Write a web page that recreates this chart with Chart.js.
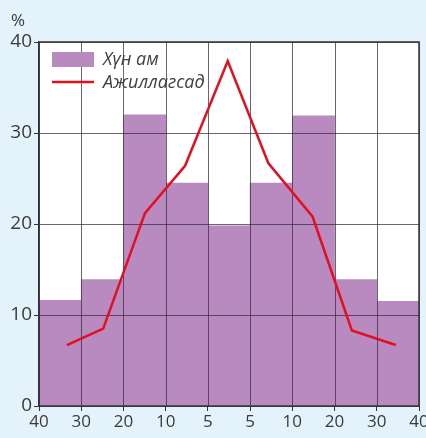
<!DOCTYPE html>
<html>
<head>
<meta charset="utf-8">
<script src="https://cdn.jsdelivr.net/npm/chart.js@4/dist/chart.umd.min.js"></script>
<style>
  html, body { margin: 0; padding: 0; background: #e4f3fb; }
  #wrap { position: relative; width: 426px; height: 438px; }
</style>
</head>
<body>
<div id="wrap"><canvas id="c" width="426" height="438"></canvas></div>
<script>
// Bin edge labels (age groups, mirrored)
const edgeLabels = ['40', '30', '20', '10', '5', '5', '10', '20', '30', '40'];
// Bin centres (in bin units) for population bars
const barX = [0.5, 1.5, 2.5, 3.5, 4.5, 5.5, 6.5, 7.5, 8.5];
// "Хүн ам" (population), %
const population = [11.6, 13.9, 32.0, 24.5, 19.8, 24.5, 31.9, 13.9, 11.5];
// "Ажиллагсад" (employed), % and their positions
const employedX = [0.66, 1.52, 2.51, 3.46, 4.47, 5.43, 6.48, 7.41, 8.45];
const employed = [6.7, 8.5, 21.2, 26.4, 37.9, 26.7, 20.8, 8.3, 6.7];
const yTicks = [0, 10, 20, 30, 40];
const seriesNames = ['Хүн ам', 'Ажиллагсад'];

const FONT = "'Open Sans', 'Noto Sans', sans-serif";
const PURPLE = '#b98ac0';
const RED = '#e2101f';

const gridPlugin = {
  id: 'gridOverBars',
  beforeDatasetsDraw(chart) {
    const { ctx, chartArea: a } = chart;
    ctx.save();
    ctx.fillStyle = '#ffffff';
    ctx.fillRect(a.left, a.top, a.right - a.left, a.bottom - a.top);
    ctx.restore();
  },
  beforeDatasetDraw(chart, args) {
    if (args.index !== 1) return; // draw after bars, before line
    const { ctx, chartArea: a, scales: { x, y } } = chart;
    ctx.save();
    ctx.strokeStyle = 'rgba(50,40,60,0.72)';
    ctx.lineWidth = 1;
    yTicks.forEach(v => {
      const py = Math.round(y.getPixelForValue(v)) + 0.5;
      ctx.beginPath(); ctx.moveTo(a.left, py); ctx.lineTo(a.right, py); ctx.stroke();
    });
    for (let i = 0; i < edgeLabels.length; i++) {
      const px = Math.round(x.getPixelForValue(i)) + 0.5;
      ctx.beginPath(); ctx.moveTo(px, a.top); ctx.lineTo(px, a.bottom); ctx.stroke();
    }
    ctx.strokeStyle = '#333';
    ctx.lineWidth = 1.5;
    ctx.strokeRect(a.left, a.top, a.right - a.left, a.bottom - a.top);
    ctx.restore();
  },
  afterDraw(chart) {
    const { ctx, chartArea: a } = chart;
    ctx.save();
    // % label
    ctx.fillStyle = '#3a3a3a';
    ctx.font = '17px ' + FONT;
    ctx.textAlign = 'center';
    ctx.textBaseline = 'alphabetic';
    ctx.fillText('%', 18, 26);
    // legend
    const lx = a.left + 13;
    ctx.fillStyle = PURPLE;
    ctx.fillRect(lx, 52, 42, 15);
    ctx.strokeStyle = RED;
    ctx.lineWidth = 2.5;
    ctx.beginPath(); ctx.moveTo(lx, 82); ctx.lineTo(lx + 42, 82); ctx.stroke();
    ctx.fillStyle = '#404040';
    ctx.font = 'italic 18px ' + FONT;
    ctx.textAlign = 'left';
    ctx.fillText(seriesNames[0], lx + 51, 65);
    ctx.fillText(seriesNames[1], lx + 51, 88);
    ctx.restore();
  }
};

new Chart(document.getElementById('c'), {
  type: 'bar',
  data: {
    datasets: [
      {
        type: 'bar',
        label: seriesNames[0],
        data: barX.map((x, i) => ({ x, y: population[i] })),
        backgroundColor: PURPLE,
        borderWidth: 0,
        barPercentage: 1.0,
        categoryPercentage: 1.0,
        order: 2
      },
      {
        type: 'line',
        label: seriesNames[1],
        data: employedX.map((x, i) => ({ x, y: employed[i] })),
        borderColor: RED,
        borderWidth: 2.5,
        pointRadius: 0,
        tension: 0,
        fill: false,
        order: 1
      }
    ]
  },
  options: {
    responsive: false,
    animation: false,
    events: [],
    layout: { padding: { top: 42, right: 7, left: 0, bottom: 0 } },
    plugins: { legend: { display: false }, tooltip: { enabled: false } },
    scales: {
      x: {
        type: 'linear',
        min: 0, max: 9,
        offset: false,
        grid: { display: true, drawOnChartArea: false, drawTicks: true, tickLength: 5, color: '#333', offset: false },
        border: { display: true, color: '#333', width: 1.5 },
        ticks: {
          stepSize: 1,
          autoSkip: false,
          maxRotation: 0,
          padding: 1,
          color: '#3a3a3a',
          font: { family: FONT, size: 17 },
          callback: (v) => edgeLabels[v]
        },
        afterFit: (s) => { s.height = 32; s.paddingRight = 0; s.paddingLeft = 0; }
      },
      y: {
        min: 0, max: 40,
        grid: { display: true, drawOnChartArea: false, drawTicks: true, tickLength: 5, color: '#333' },
        border: { display: true, color: '#333', width: 1.5 },
        ticks: {
          stepSize: 10,
          padding: 2,
          color: '#3a3a3a',
          font: { family: FONT, size: 19 }
        },
        afterFit: (s) => { s.width = 39; s.paddingTop = 0; s.paddingBottom = 0; }
      }
    }
  },
  plugins: [gridPlugin]
});
</script>
</body>
</html>
